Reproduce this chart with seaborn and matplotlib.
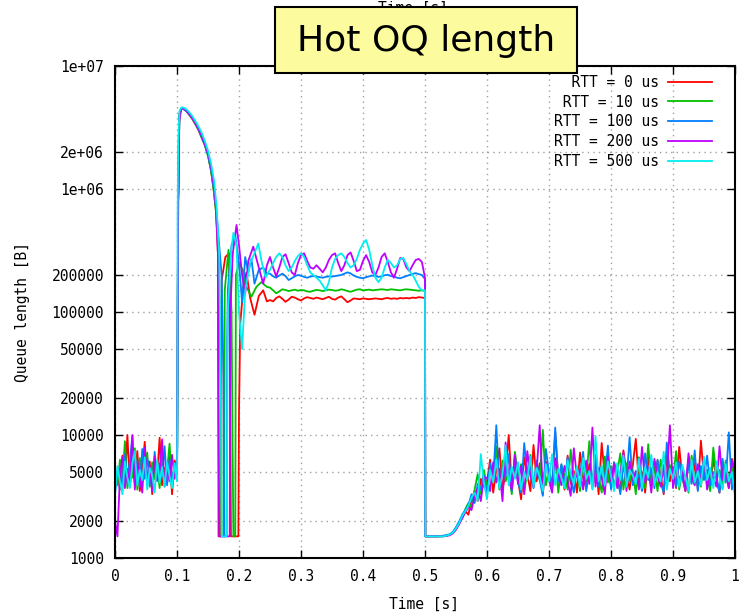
import numpy as np
import pandas as pd
import matplotlib
matplotlib.use("Agg")
import matplotlib.pyplot as plt
from matplotlib.patches import Rectangle
from matplotlib.ticker import NullLocator
import seaborn as sns

# series labels and colours (gnuplot defaults)
labels = ["RTT = 0 us", "RTT = 10 us", "RTT = 100 us", "RTT = 200 us", "RTT = 500 us"]
colors = ["#ff0000", "#00c000", "#0080ff", "#c000ff", "#00eeee"]

# axis ticks
y_ticks = [1000, 2000, 5000, 10000, 20000, 50000, 100000, 200000, 1000000, 2000000, 10000000]
y_tick_labels = ["1000", "2000", "5000", "10000", "20000", "50000", "100000", "200000",
                 "1e+06", "2e+06", "1e+07"]
x_ticks = [0, 0.1, 0.2, 0.3, 0.4, 0.5, 0.6, 0.7, 0.8, 0.9, 1.0]
x_tick_labels = ["0", "0.1", "0.2", "0.3", "0.4", "0.5", "0.6", "0.7", "0.8", "0.9", "1"]

# ---- start noise, 0 - 0.1 s (shared time grid) ----
t_start = np.round(np.arange(0, 0.1, 0.004), 4)
red_start = [4200, 5100, 3600, 6800, 4300, 10000, 3800, 5600, 4100, 7400, 3500, 5200, 8800,
             4000, 6100, 3300, 5800, 4600, 9500, 3900, 5400, 4800, 7100, 3300, 6200]
green_start = [4800, 3900, 6300, 4400, 8900, 3700, 5900, 4500, 7800, 3600, 6500, 4100, 5300,
               7200, 3800, 6000, 4400, 5600, 3700, 6800, 4200, 5100, 8500, 4000, 5700]
blue_start = [3500, 4600, 5400, 3900, 7000, 4300, 6100, 9800, 4000, 5500, 3800, 7700, 4400,
              6400, 5000, 3600, 7300, 4200, 5900, 4600, 8100, 3900, 6300, 4500, 5200]
magenta_start = [2000, 1500, 4700, 6600, 3700, 5300, 4000, 10000, 3600, 6200, 4500, 3400, 7900,
                 4100, 5600, 3500, 6700, 4300, 5000, 9200, 3800, 5500, 4200, 6900, 4400]
cyan_start = [3200, 5600, 4200, 3300, 6100, 4500, 3700, 5800, 7400, 3900, 5200, 4300, 6600,
              3600, 5400, 4700, 3400, 6300, 4100, 5500, 3800, 6000, 4600, 3700, 5900]

# ---- burst and recovery, 0.1 - 0.25 s (time, bytes) ----
red_burst = [(0.100, 5500), (0.1005, 12000), (0.102, 1.5e6), (0.104, 4.1e6), (0.107, 4.5e6),
             (0.110, 4.5e6), (0.115, 4.3e6), (0.120, 4.0e6), (0.125, 3.7e6), (0.130, 3.35e6),
             (0.135, 3.0e6), (0.140, 2.6e6), (0.145, 2.3e6), (0.150, 1.9e6), (0.155, 1.4e6),
             (0.159, 1.0e6), (0.163, 6.5e5), (0.166, 3.0e5), (0.167, 1500), (0.171, 1500),
             (0.172, 1.8e5), (0.178, 2.8e5), (0.184, 3.0e5), (0.186, 1.2e4), (0.187, 1500),
             (0.199, 1500), (0.200, 1.5e4), (0.202, 8e4), (0.207, 1.6e5), (0.212, 2.1e5),
             (0.218, 1.3e5), (0.225, 9.5e4), (0.232, 1.35e5), (0.239, 1.5e5), (0.245, 1.22e5)]
green_burst = [(0.100, 6000), (0.1005, 9000), (0.102, 1.3e6), (0.104, 4.0e6), (0.107, 4.5e6),
               (0.110, 4.5e6), (0.115, 4.3e6), (0.120, 4.0e6), (0.125, 3.7e6), (0.130, 3.35e6),
               (0.135, 3.0e6), (0.140, 2.6e6), (0.145, 2.25e6), (0.150, 1.85e6), (0.155, 1.4e6),
               (0.159, 1.0e6), (0.163, 6.5e5), (0.167, 3.0e5), (0.171, 2.0e4), (0.172, 1500),
               (0.176, 1500), (0.177, 1.5e5), (0.183, 3.2e5), (0.188, 1.0e5), (0.190, 5000),
               (0.191, 1500), (0.194, 1500), (0.195, 2.0e5), (0.200, 2.5e5), (0.206, 2.2e5),
               (0.212, 1.6e5), (0.220, 1.33e5), (0.228, 1.6e5), (0.236, 1.75e5), (0.245, 1.6e5)]
blue_burst = [(0.100, 4800), (0.1005, 8000), (0.102, 1.1e6), (0.104, 4.0e6), (0.107, 4.5e6),
              (0.110, 4.5e6), (0.115, 4.3e6), (0.120, 4.05e6), (0.125, 3.75e6), (0.130, 3.4e6),
              (0.135, 3.05e6), (0.140, 2.65e6), (0.145, 2.3e6), (0.150, 1.9e6), (0.155, 1.45e6),
              (0.159, 1.05e6), (0.163, 7e5), (0.167, 4e5), (0.172, 2e5), (0.175, 3e4),
              (0.176, 1500), (0.180, 1500), (0.181, 6e4), (0.182, 1.5e5), (0.188, 3.5e5),
              (0.194, 4.2e5), (0.200, 2.5e5), (0.205, 1.2e5), (0.210, 2.8e5), (0.215, 2.1e5),
              (0.220, 2.7e5), (0.225, 1.7e5), (0.232, 2.2e5), (0.239, 2.3e5), (0.245, 2.05e5)]
magenta_burst = [(0.100, 6600), (0.1005, 3.0e4), (0.102, 8e5), (0.103, 1.0e6), (0.1035, 3.5e6),
                 (0.107, 4.5e6), (0.110, 4.5e6), (0.115, 4.35e6), (0.120, 4.05e6), (0.125, 3.75e6),
                 (0.130, 3.4e6), (0.135, 3.05e6), (0.140, 2.7e6), (0.145, 2.3e6), (0.150, 1.95e6),
                 (0.155, 1.5e6), (0.159, 1.1e6), (0.163, 7e5), (0.166, 3e5), (0.168, 1500),
                 (0.185, 1500), (0.186, 1e5), (0.190, 3e5), (0.196, 5.1e5), (0.200, 3.5e5),
                 (0.205, 2.0e5), (0.210, 1.4e5), (0.215, 2.6e5), (0.223, 3.4e5), (0.230, 2.5e5),
                 (0.239, 1.7e5), (0.245, 2.4e5)]
cyan_burst = [(0.100, 4200), (0.1005, 1.5e4), (0.101, 6e5), (0.102, 2.5e6), (0.104, 4.3e6),
              (0.107, 4.6e6), (0.110, 4.6e6), (0.115, 4.45e6), (0.120, 4.2e6), (0.125, 3.9e6),
              (0.130, 3.55e6), (0.135, 3.2e6), (0.140, 2.85e6), (0.145, 2.45e6), (0.150, 2.05e6),
              (0.155, 1.6e6), (0.160, 1.15e6), (0.164, 7e5), (0.168, 3e5), (0.171, 2e4),
              (0.172, 1500), (0.180, 1500), (0.182, 1e5), (0.187, 3e5), (0.191, 4.4e5),
              (0.196, 3.5e5), (0.200, 1.0e5), (0.205, 5e4), (0.210, 1.5e5), (0.218, 2.5e5),
              (0.225, 3.0e5), (0.231, 3.6e5), (0.237, 2.5e5), (0.243, 1.9e5), (0.247, 2.1e5)]

# ---- steady state, 0.25 - 0.5 s (shared grid, kB) ----
t_steady = np.round(np.arange(0.25, 0.5001, 0.005), 4)
red_steady = [125, 122, 130, 134, 128, 121, 126, 133, 131, 127, 124, 129, 132, 130, 128, 131, 129,
              127, 130, 133, 128, 126, 131, 134, 127, 120, 124, 129, 128, 127, 129, 128, 127, 128,
              129, 128, 127, 129, 130, 128, 129, 128, 130, 129, 130, 129, 131, 130, 132, 131, 130]
green_steady = [158, 150, 142, 147, 153, 151, 148, 150, 152, 149, 151, 150, 147, 146, 149, 151, 150,
                148, 150, 152, 151, 149, 150, 153, 151, 148, 146, 149, 152, 153, 150, 151, 152, 150,
                151, 152, 153, 152, 151, 153, 152, 151, 150, 152, 153, 152, 151, 150, 149, 150, 148]
blue_steady = [205, 195, 190, 198, 205, 196, 182, 188, 195, 200, 197, 193, 190, 194, 196, 194, 192,
               190, 193, 195, 194, 196, 198, 200, 205, 210, 206, 198, 193, 190, 188, 192, 195, 198,
               196, 193, 195, 199, 201, 196, 194, 190, 188, 192, 196, 200, 204, 207, 203, 200, 185]
magenta_steady = [280, 230, 195, 230, 280, 295, 250, 210, 200, 250, 290, 300, 260, 230, 225, 240,
                  225, 210, 230, 265, 290, 300, 250, 215, 240, 290, 305, 260, 215, 220, 260, 290,
                  255, 210, 200, 230, 280, 300, 255, 210, 190, 225, 275, 270, 230, 215, 240, 265,
                  270, 255, 190]
cyan_steady = [220, 250, 280, 300, 280, 240, 215, 230, 260, 285, 300, 280, 240, 210, 200, 190, 180,
               165, 150, 175, 230, 270, 290, 300, 280, 250, 230, 240, 270, 320, 360, 385, 320, 240,
               190, 175, 190, 230, 265, 250, 230, 240, 270, 275, 245, 215, 200, 180, 160, 150, 150]

# ---- drain and ramp, 0.5 - 0.6 s (shared grid) ----
t_ramp = [0.5005, 0.51, 0.52, 0.53, 0.54, 0.545, 0.55, 0.555, 0.56, 0.565, 0.57, 0.575, 0.58,
          0.585, 0.59, 0.595]
red_ramp = [1500, 1500, 1500, 1510, 1540, 1600, 1720, 1900, 2150, 2400, 2250, 3000, 3500, 2900,
            4400, 3800]
green_ramp = [1500, 1500, 1500, 1500, 1550, 1620, 1750, 1950, 2100, 2500, 2800, 2600, 3600, 4800,
              3300, 5200]
blue_ramp = [1500, 1500, 1500, 1520, 1560, 1630, 1780, 1980, 2250, 2450, 2700, 3300, 2800, 4000,
             3600, 4700]
magenta_ramp = [1500, 1500, 1500, 1500, 1530, 1590, 1700, 1880, 2100, 2350, 2600, 2450, 3200, 3700,
                2900, 4500]
cyan_ramp = [1500, 1500, 1500, 1500, 1550, 1610, 1740, 1920, 2200, 2400, 2650, 3100, 3400, 2900,
             7000, 4100]

# ---- end noise, 0.6 - 1.0 s (shared grid) ----
t_end = np.round(np.arange(0.6, 1.0001, 0.005), 4)
red_end = [4100, 6300, 3400, 5200, 7800, 3600, 4900, 10000, 3900, 5700,
           4300, 3000, 6600, 4800, 3500, 8300, 4200, 5900, 3300, 6100,
           4700, 3800, 10500, 4400, 5300, 3600, 6800, 4000, 5100, 3400,
           7200, 4500, 3700, 5800, 4100, 6400, 3300, 8600, 4600, 5400,
           3800, 6000, 4300, 3500, 7500, 4900, 3600, 5600, 9300, 4000,
           5000, 3400, 6700, 4400, 3900, 6200, 4700, 3300, 7000, 4200,
           5500, 3700, 8000, 4500, 3500, 6300, 4100, 5900, 3600, 9000,
           4400, 5200, 3800, 6500, 4300, 3400, 5800, 4900, 3700, 6400, 4100]
green_end = [3700, 5400, 4500, 8100, 3600, 6200, 4200, 5000, 3300, 7300,
             4600, 5800, 3500, 4900, 6900, 3800, 5500, 4300, 11000, 3900,
             5200, 4000, 6400, 3400, 5700, 4700, 3600, 7600, 4400, 5100,
             3500, 6100, 4300, 8900, 3700, 5300, 4600, 3400, 6700, 4100,
             5600, 3800, 4900, 7100, 3600, 5900, 4200, 5200, 3300, 6600,
             4500, 3700, 8400, 4100, 5500, 3500, 6300, 4800, 3900, 5700,
             4300, 7400, 3600, 5100, 4600, 3400, 6800, 4000, 5300, 3800,
             6000, 4400, 3500, 7900, 4700, 5200, 3700, 6200, 4200, 5000, 6500]
blue_end = [3300, 5900, 4400, 12000, 3800, 5200, 4600, 7000, 3500, 6500,
            4100, 3400, 8600, 4800, 5600, 3700, 6200, 4300, 3200, 7700,
            4900, 3600, 11500, 4200, 5800, 3900, 6600, 4500, 3400, 5300,
            4700, 7300, 3500, 5100, 4000, 6900, 3800, 5500, 4400, 8200,
            3600, 6000, 4800, 3300, 5700, 4200, 9600, 3900, 5000, 4600,
            3500, 7100, 4300, 5400, 3700, 6300, 4100, 3400, 8700, 4900,
            5200, 3800, 6100, 4500, 3600, 5900, 4000, 7500, 3500, 5600,
            4300, 6800, 3900, 5000, 4700, 3400, 6400, 4100, 10500, 3600, 5800]
magenta_end = [4500, 3500, 6000, 4100, 5300, 2900, 8700, 4400, 3600, 6900,
               4000, 5600, 3300, 7400, 4600, 3800, 5000, 12000, 3700, 5900,
               4300, 3400, 6500, 4800, 3900, 5600, 4200, 3200, 7800, 4600,
               5300, 3600, 6200, 4000, 11500, 3800, 5400, 4500, 3300, 6700,
               4200, 5800, 3700, 4900, 7200, 3500, 6100, 4300, 5100, 3600,
               8000, 4100, 5500, 3400, 6400, 4700, 3800, 5700, 4400, 12000,
               3700, 6000, 4200, 5200, 3500, 7100, 4600, 3900, 5800, 4100,
               6600, 3600, 5300, 4500, 3800, 8100, 4300, 5500, 3700, 6200, 4800]
cyan_end = [3000, 5200, 4100, 6300, 3700, 4800, 8200, 3900, 5500, 4400,
            6000, 3600, 5000, 4300, 6700, 3800, 5400, 4600, 3500, 5800,
            4200, 7000, 3900, 5300, 4500, 3700, 6200, 4800, 4000, 5600,
            3800, 6500, 4400, 5100, 3600, 9800, 4200, 5700, 3900, 6100,
            4600, 3500, 5900, 4300, 6800, 3800, 5200, 4700, 4000, 6400,
            3700, 5500, 4500, 6900, 3900, 5000, 4200, 7300, 3600, 5300,
            4400, 6000, 3800, 5700, 4600, 3500, 6300, 4100, 5100, 3900,
            6600, 4300, 5400, 3700, 6100, 4500, 3600, 5800, 4200, 5000, 3200]

parts = [
    (red_start, red_burst, red_steady, red_ramp, red_end),
    (green_start, green_burst, green_steady, green_ramp, green_end),
    (blue_start, blue_burst, blue_steady, blue_ramp, blue_end),
    (magenta_start, magenta_burst, magenta_steady, magenta_ramp, magenta_end),
    (cyan_start, cyan_burst, cyan_steady, cyan_ramp, cyan_end),
]

frames = []
for label, (q_start, burst, q_steady, q_ramp, q_end) in zip(labels, parts):
    t_burst = [p[0] for p in burst]
    q_burst = [p[1] for p in burst]
    t = np.concatenate([t_start, t_burst, t_steady, t_ramp, t_end])
    q = np.concatenate([q_start, q_burst, np.array(q_steady) * 1000, q_ramp, q_end])
    frames.append(pd.DataFrame({"time": t, "queue": q, "rtt": label}))
df = pd.concat(frames, ignore_index=True)

mono = "DejaVu Sans Mono"
plt.rcParams["font.family"] = mono

fig = plt.figure(figsize=(7.39, 6.14), dpi=100)
ax = fig.add_axes([0.1556, 0.0912, 0.8390, 0.8013])

sns.lineplot(data=df, x="time", y="queue", hue="rtt", palette=colors, hue_order=labels,
             estimator=None, sort=False, linewidth=1.3, legend=False, ax=ax)

ax.set_yscale("log")
ax.set_xlim(0, 1)
ax.set_ylim(1000, 1e7)
ax.set_yticks(y_ticks)
ax.set_yticklabels(y_tick_labels)
ax.yaxis.set_minor_locator(NullLocator())
ax.set_xticks(x_ticks)
ax.set_xticklabels(x_tick_labels)
ax.tick_params(direction="in", length=6, width=1, top=True, right=True, labelsize=10.5,
               pad=8, colors="black")
ax.grid(True, color="#a0a0a0", linestyle=(0, (1, 3)), linewidth=1)
for s in ax.spines.values():
    s.set_linewidth(1.5)

ax.set_xlabel("Time [s]", fontsize=10.5)
ax.set_ylabel("Queue length [B]", fontsize=10.5)
ax.xaxis.set_label_coords(0.498, -0.079)
ax.yaxis.set_label_coords(-0.137, 0.5)

# legend, text right-aligned by padding (monospace font)
width = max(len(l) for l in labels)
leg = ax.legend(ax.lines, [l.rjust(width) for l in labels], loc="upper right",
                bbox_to_anchor=(0.977, 1.0), frameon=False, markerfirst=False,
                handlelength=3.0, handletextpad=0.6, labelspacing=0.33, fontsize=10.5,
                borderaxespad=0.2)

# top axis label (mostly hidden behind the title box)
fig.text(413 / 739, 1 - 1 / 614, "Time [s]", ha="center", va="top", fontsize=10.5)

# yellow title box
fig.patches.append(Rectangle((275 / 739, 1 - 73 / 614), 302 / 739, 66 / 614,
                             transform=fig.transFigure, facecolor="#fcfc9e",
                             edgecolor="black", linewidth=1.5, zorder=5))
fig.text(426 / 739, 1 - 41 / 614, "Hot OQ length", ha="center", va="center",
         fontsize=26, family="DejaVu Sans", zorder=6)

fig.savefig("out.png", dpi=100)
